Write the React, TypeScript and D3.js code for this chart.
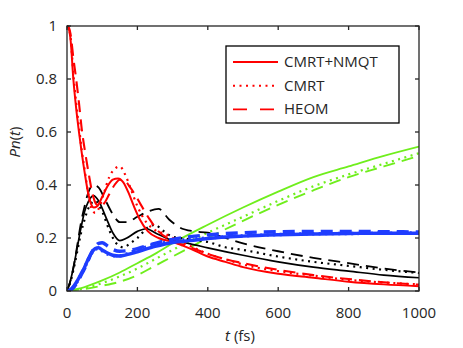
import React, { useEffect, useRef } from 'react';
import * as d3 from 'd3';

type Pt = [number, number];

// population curves, [t (fs), Pn]
const redSolid: Pt[] = [[0, 1], [5, 0.99], [10, 0.95], [18, 0.8], [26, 0.69], [34, 0.6], [42, 0.52], [51, 0.44], [60, 0.37], [68, 0.33], [76, 0.315], [86, 0.32], [100, 0.355], [115, 0.395], [130, 0.42], [145, 0.425], [160, 0.41], [175, 0.37], [190, 0.32], [207, 0.27], [230, 0.225], [260, 0.2], [300, 0.185], [350, 0.16], [400, 0.13], [450, 0.11], [500, 0.09], [600, 0.065], [700, 0.05], [800, 0.035], [900, 0.025], [1000, 0.018]];
const redDotted: Pt[] = [[0, 1], [5, 0.99], [10, 0.96], [18, 0.82], [26, 0.71], [34, 0.62], [42, 0.53], [51, 0.45], [60, 0.37], [70, 0.31], [80, 0.295], [90, 0.31], [105, 0.37], [120, 0.43], [135, 0.46], [150, 0.47], [165, 0.44], [180, 0.39], [200, 0.32], [225, 0.26], [250, 0.23], [280, 0.215], [300, 0.2], [350, 0.17], [400, 0.14], [450, 0.12], [500, 0.1], [600, 0.075], [700, 0.058], [800, 0.042], [900, 0.032], [1000, 0.025]];
const redDashed: Pt[] = [[0, 1], [5, 0.995], [10, 0.97], [18, 0.88], [26, 0.8], [34, 0.71], [42, 0.61], [52, 0.52], [62, 0.44], [72, 0.37], [82, 0.33], [92, 0.32], [105, 0.33], [120, 0.365], [135, 0.4], [150, 0.42], [165, 0.415], [180, 0.39], [195, 0.36], [210, 0.325], [235, 0.27], [260, 0.225], [300, 0.19], [350, 0.165], [400, 0.14], [450, 0.12], [500, 0.105], [600, 0.08], [700, 0.06], [800, 0.045], [900, 0.033], [1000, 0.024]];

const blackSolid: Pt[] = [[0, 0], [10, 0.04], [20, 0.1], [30, 0.17], [40, 0.24], [50, 0.3], [60, 0.335], [75, 0.36], [90, 0.34], [110, 0.28], [130, 0.22], [150, 0.19], [170, 0.2], [200, 0.225], [225, 0.235], [250, 0.22], [300, 0.19], [350, 0.178], [400, 0.163], [500, 0.135], [600, 0.11], [700, 0.09], [800, 0.075], [900, 0.06], [1000, 0.05]];
const blackDotted: Pt[] = [[0, 0], [10, 0.035], [20, 0.09], [30, 0.155], [40, 0.22], [50, 0.27], [60, 0.31], [80, 0.34], [100, 0.3], [120, 0.23], [140, 0.18], [160, 0.165], [180, 0.18], [200, 0.2], [230, 0.24], [250, 0.25], [270, 0.23], [300, 0.205], [350, 0.195], [400, 0.185], [450, 0.165], [500, 0.155], [600, 0.13], [700, 0.11], [800, 0.095], [900, 0.08], [1000, 0.068]];
const blackDashed: Pt[] = [[0, 0], [10, 0.04], [20, 0.1], [30, 0.18], [40, 0.26], [50, 0.32], [60, 0.37], [75, 0.4], [90, 0.39], [110, 0.34], [130, 0.29], [150, 0.26], [170, 0.26], [200, 0.28], [230, 0.3], [260, 0.31], [290, 0.27], [320, 0.24], [360, 0.225], [400, 0.22], [450, 0.2], [500, 0.18], [600, 0.15], [700, 0.125], [800, 0.105], [900, 0.085], [1000, 0.07]];

const blueSolid: Pt[] = [[0, 0], [10, 0.005], [20, 0.02], [30, 0.04], [40, 0.065], [50, 0.09], [60, 0.12], [70, 0.145], [80, 0.16], [90, 0.163], [100, 0.155], [115, 0.143], [130, 0.135], [150, 0.132], [170, 0.137], [200, 0.148], [250, 0.168], [300, 0.183], [350, 0.19], [400, 0.198], [500, 0.207], [600, 0.212], [700, 0.215], [800, 0.217], [900, 0.218], [1000, 0.218]];
const blueDotted: Pt[] = [[0, 0], [10, 0.004], [20, 0.018], [30, 0.038], [40, 0.062], [50, 0.088], [60, 0.118], [70, 0.143], [80, 0.158], [90, 0.16], [100, 0.152], [115, 0.14], [130, 0.133], [150, 0.133], [170, 0.14], [200, 0.155], [250, 0.175], [300, 0.188], [350, 0.195], [400, 0.2], [500, 0.208], [600, 0.213], [700, 0.216], [800, 0.217], [900, 0.218], [1000, 0.219]];
const blueDashed: Pt[] = [[0, 0], [10, 0.004], [20, 0.015], [30, 0.035], [40, 0.06], [50, 0.085], [60, 0.115], [70, 0.145], [80, 0.168], [90, 0.18], [100, 0.182], [115, 0.17], [130, 0.157], [150, 0.15], [170, 0.152], [200, 0.16], [250, 0.18], [300, 0.195], [350, 0.205], [400, 0.212], [500, 0.22], [600, 0.224], [700, 0.225], [800, 0.225], [900, 0.224], [1000, 0.223]];

const greenSolid: Pt[] = [[0, 0], [50, 0.015], [100, 0.04], [150, 0.07], [200, 0.105], [250, 0.14], [300, 0.18], [400, 0.25], [500, 0.315], [600, 0.375], [700, 0.43], [800, 0.47], [900, 0.51], [1000, 0.545]];
const greenDotted: Pt[] = [[0, 0], [50, 0.01], [100, 0.03], [150, 0.055], [200, 0.085], [250, 0.12], [300, 0.155], [400, 0.22], [500, 0.28], [600, 0.34], [700, 0.395], [800, 0.44], [900, 0.48], [1000, 0.52]];
const greenDashed: Pt[] = [[0, 0], [50, 0.008], [100, 0.02], [150, 0.035], [200, 0.06], [250, 0.095], [300, 0.13], [400, 0.2], [500, 0.265], [600, 0.325], [700, 0.38], [800, 0.43], [900, 0.47], [1000, 0.51]];

const xTicks = [0, 200, 400, 600, 800, 1000];
const yTicks = [0, 0.2, 0.4, 0.6, 0.8, 1];
const legendLabels = ['CMRT+NMQT', 'CMRT', 'HEOM'];

const RED = '#ff0000';
const BLACK = '#000000';
const BLUE = '#1f3dff';
const GREEN = '#6fee1c';
const SOLID = null;
const DOT = '2,4.5';
const DASH = '12,7';

const App = () => {
  const svgRef = useRef<SVGSVGElement>(null);

  useEffect(() => {
    const svg = d3.select(svgRef.current);
    svg.selectAll('*').remove();

    const left = 67, right = 419, top = 26, bottom = 291;
    const font = '"Open Sans", sans-serif';
    const ink = '#262626';

    const x = d3.scaleLinear().domain([0, 1000]).range([left, right]);
    const y = d3.scaleLinear().domain([0, 1]).range([bottom, top]);

    svg.append('defs').append('clipPath').attr('id', 'plotclip')
      .append('rect').attr('x', left).attr('y', top - 1).attr('width', right - left).attr('height', bottom - top + 1);

    const line = d3.line<Pt>().x(d => x(d[0])).y(d => y(d[1])).curve(d3.curveMonotoneX);

    const series = [
      { d: greenSolid, c: GREEN, dash: SOLID, w: 1.8 },
      { d: greenDotted, c: GREEN, dash: DOT, w: 2.2 },
      { d: greenDashed, c: GREEN, dash: DASH, w: 1.9 },
      { d: blackSolid, c: BLACK, dash: SOLID, w: 1.7 },
      { d: blackDotted, c: BLACK, dash: DOT, w: 2.2 },
      { d: blackDashed, c: BLACK, dash: DASH, w: 1.8 },
      { d: redSolid, c: RED, dash: SOLID, w: 2 },
      { d: redDotted, c: RED, dash: DOT, w: 2.2 },
      { d: redDashed, c: RED, dash: DASH, w: 2.1 },
      { d: blueSolid, c: BLUE, dash: SOLID, w: 3.4 },
      { d: blueDotted, c: BLUE, dash: DOT, w: 3.4 },
      { d: blueDashed, c: BLUE, dash: DASH, w: 3.4 },
    ];

    const plot = svg.append('g').attr('clip-path', 'url(#plotclip)');
    series.forEach(s => {
      plot.append('path')
        .attr('d', line(s.d))
        .attr('fill', 'none')
        .attr('stroke', s.c)
        .attr('stroke-width', s.w)
        .attr('stroke-dasharray', s.dash);
    });

    // frame with inward ticks on all sides
    const frame = svg.append('g').attr('stroke', ink).attr('stroke-width', 1.3).attr('fill', 'none');
    frame.append('rect').attr('x', left).attr('y', top).attr('width', right - left).attr('height', bottom - top);
    xTicks.forEach(t => {
      frame.append('line').attr('x1', x(t)).attr('x2', x(t)).attr('y1', bottom).attr('y2', bottom - 4);
      frame.append('line').attr('x1', x(t)).attr('x2', x(t)).attr('y1', top).attr('y2', top + 4);
    });
    yTicks.forEach(t => {
      frame.append('line').attr('x1', left).attr('x2', left + 4).attr('y1', y(t)).attr('y2', y(t));
      frame.append('line').attr('x1', right).attr('x2', right - 4).attr('y1', y(t)).attr('y2', y(t));
    });

    const labels = svg.append('g').attr('font-family', font).attr('font-size', 15).attr('fill', ink);
    xTicks.forEach(t => {
      labels.append('text').attr('x', x(t)).attr('y', 318).attr('text-anchor', 'middle').text(t);
    });
    yTicks.forEach(t => {
      labels.append('text').attr('x', 57).attr('y', y(t) + 5).attr('text-anchor', 'end').text(t);
    });

    // axis titles
    const xt = labels.append('text').attr('x', 240).attr('y', 341).attr('text-anchor', 'middle');
    xt.append('tspan').attr('font-style', 'italic').text('t');
    xt.append('tspan').text(' (fs)');

    const yt = labels.append('text').attr('transform', 'translate(20,142) rotate(-90)').attr('text-anchor', 'middle');
    yt.append('tspan').attr('font-style', 'italic').text('Pn');
    yt.append('tspan').text('(');
    yt.append('tspan').attr('font-style', 'italic').text('t');
    yt.append('tspan').text(')');

    // legend
    const lg = svg.append('g');
    lg.append('rect').attr('x', 226).attr('y', 46).attr('width', 173).attr('height', 77)
      .attr('fill', '#fff').attr('stroke', '#000').attr('stroke-width', 1.3);
    const dashes = [SOLID, '2,4.5', '14,13'];
    legendLabels.forEach((name, i) => {
      const ly = 62 + i * 23.7;
      lg.append('line').attr('x1', 233).attr('x2', 278).attr('y1', ly).attr('y2', ly)
        .attr('stroke', RED).attr('stroke-width', 1.9)
        .attr('stroke-dasharray', dashes[i]);
      lg.append('text').attr('x', 284).attr('y', ly + 5)
        .attr('font-family', font).attr('font-size', 15).attr('fill', ink).text(name);
    });
  }, []);

  return <svg ref={svgRef} width={463} height={348} style={{ position: 'absolute', left: 0, top: 0 }} />;
};

export default App;
